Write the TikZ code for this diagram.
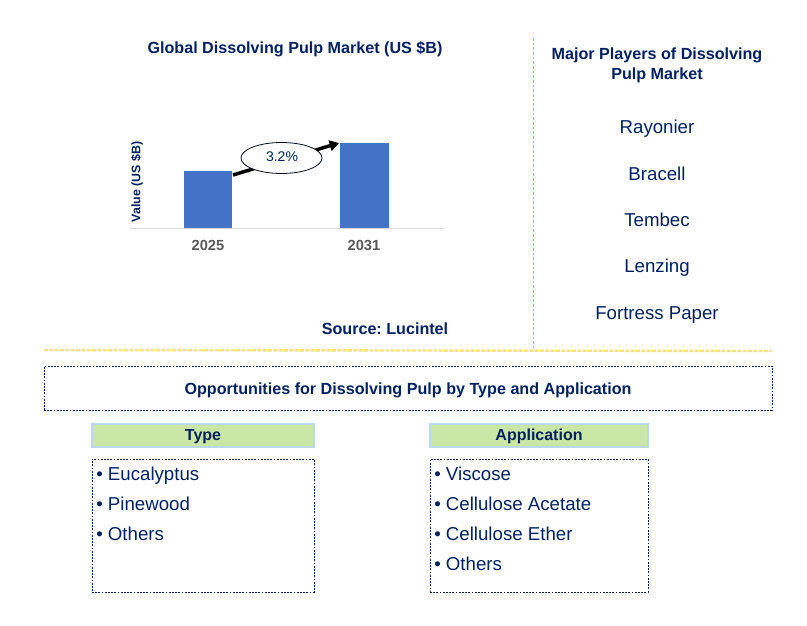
\documentclass[tikz,border=0pt]{standalone}
\usepackage{fontspec}
\setmainfont{Liberation Sans}
\usetikzlibrary{arrows.meta,shapes.geometric}
\definecolor{navy}{HTML}{002060}
\definecolor{barblue}{HTML}{4472C4}
\definecolor{hdrgreen}{HTML}{C9E7A5}
\definecolor{hdrborder}{HTML}{BDD7EE}
\definecolor{gold}{HTML}{FFC000}
\definecolor{axisgray}{HTML}{D9D9D9}
\definecolor{yeargray}{HTML}{595959}
\frenchspacing
\tikzset{
  title/.style={font=\bfseries\fontsize{12.1}{15}\selectfont, text=navy, inner sep=0pt, align=center, anchor=base},
  player/.style={font=\fontsize{14}{16}\selectfont, text=navy, inner sep=0pt, anchor=base},
  item/.style={font=\fontsize{14}{16}\selectfont, text=navy, inner sep=0pt, anchor=base west},
  year/.style={font=\bfseries\fontsize{11}{13}\selectfont, text=yeargray, inner sep=0pt, anchor=base},
  bar/.style={fill=barblue, draw=none, inner sep=0pt, anchor=south},
  dotbox/.style={draw=navy, line width=0.75pt, dash pattern=on 1.3pt off 1.1pt, inner sep=0pt},
  hdr/.style={fill=hdrgreen, draw=hdrborder, line width=0.9pt, inner sep=0pt},
  hdrtxt/.style={font=\bfseries\fontsize{12}{14}\selectfont, text=navy, inner sep=0pt, anchor=base},
}
\begin{document}
\begin{tikzpicture}[x=0.75pt,y=-0.75pt]
\useasboundingbox (0,0) rectangle (807,625);
% left chart
\node[title] (ctitle) at (295,53.3) {Global Dissolving Pulp Market (US \$B)};
\draw[axisgray, line width=0.75pt] (130,228) coordinate (ax1) -- (443,228) coordinate (ax2);
\node[bar, minimum width=36pt, minimum height=42.75pt] (b1) at (208,228) {};
\node[bar, minimum width=36.75pt, minimum height=63.75pt] (b2) at (364.5,228) {};
\node[year] (y1) at (208,250) {2025};
\node[year] (y2) at (364,250) {2031};
\node[font=\bfseries\fontsize{9.3}{11}\selectfont, text=navy, inner sep=0pt, rotate=90] (ylab) at (137,182) {Value (US \$B)};
\coordinate (as) at (233,175);
\coordinate (ae) at (339,143);
\draw[black, line width=2.6pt, -{Triangle[length=7pt,width=8pt]}] (as) -- (ae);
\node[ellipse, draw=black!70!navy, line width=0.6pt, fill=white, minimum width=60.75pt, minimum height=23.25pt, inner sep=0pt] (cagr) at (281.5,158) {};
\node[font=\fontsize{10.5}{12}\selectfont, text=navy, inner sep=0pt, anchor=base] (cagrtxt) at (282,161.7) {3.2\%};
\node[title] (src) at (385,334) {Source: Lucintel};
% dividers
\draw[gold, line width=0.75pt, dash pattern=on 2pt off 1.5pt] (533,38) coordinate (d1) -- (533,348) coordinate (d2);
\draw[gold!50, line width=1.8pt, dash pattern=on 3pt off 1pt] (44,350) coordinate (h1) -- (772,351) coordinate (h2);
% right: players
\node[title] (ptitle1) at (657,59.3) {Major Players of Dissolving};
\node[title] (ptitle2) at (657,79.3) {Pulp Market};
\node[player] (p1) at (657,133.5) {Rayonier};
\node[player] (p2) at (657,180) {Bracell};
\node[player] (p3) at (657,226) {Tembec};
\node[player] (p4) at (657,272.5) {Lenzing};
\node[player] (p5) at (657,319) {Fortress Paper};
% opportunities
\node[dotbox, minimum width=546pt, minimum height=33pt] (opp) at (408,388) {};
\node[title] (opptxt) at (408,394) {Opportunities for Dissolving Pulp by Type and Application};
\node[hdr, minimum width=166.5pt, minimum height=17.25pt] (th) at (203,435.5) {};
\node[hdrtxt] (thtxt) at (203,440) {Type};
\node[hdr, minimum width=163.5pt, minimum height=17.25pt] (ah) at (539,435.5) {};
\node[hdrtxt] (ahtxt) at (539,440) {Application};
\node[dotbox, minimum width=166.5pt, minimum height=99.75pt] (tbox) at (203,525.5) {};
\node[dotbox, minimum width=163.5pt, minimum height=99.75pt] (abox) at (539,525.5) {};
\node[item] (t1) at (96,480) {• Eucalyptus};
\node[item] (t2) at (96,510) {• Pinewood};
\node[item] (t3) at (96,540) {• Others};
\node[item] (a1) at (434,480) {• Viscose};
\node[item] (a2) at (434,510) {• Cellulose Acetate};
\node[item] (a3) at (434,540) {• Cellulose Ether};
\node[item] (a4) at (434,570) {• Others};
\end{tikzpicture}
\end{document}
